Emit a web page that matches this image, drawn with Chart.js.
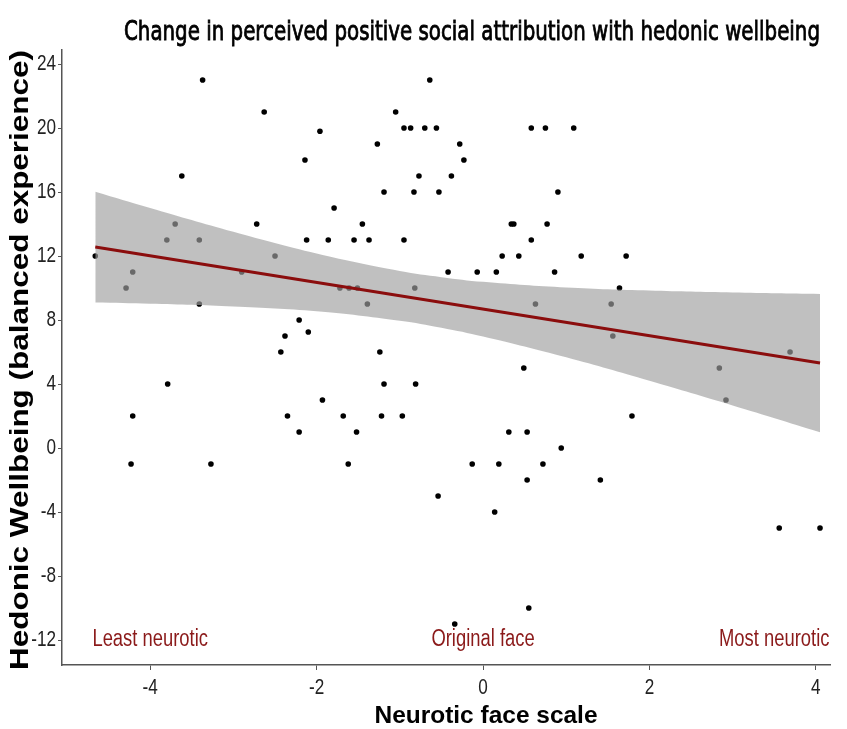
<!DOCTYPE html>
<html>
<head>
<meta charset="utf-8">
<script src="https://cdn.jsdelivr.net/npm/chart.js@4"></script>
<style>
  html, body { margin: 0; padding: 0; background: #fff; }
  #wrap { width: 847px; height: 729px; }
</style>
</head>
<body>
<div id="wrap"><canvas id="myChart" width="847" height="729"></canvas></div>
<script>
// participants: neurotic face scale (x) vs hedonic wellbeing (y)
const faceScale = [
  -3.37, -0.64, -2.63, -1.05, -1.96, -0.95, -0.87, -0.70, -0.56, 0.58,
  0.75, 1.09, -0.28, -1.27, -0.23, -2.14, -3.62, -0.77, -0.38, -1.19,
  -0.83, -0.53, 0.90, -1.79, -1.45, 0.34, 0.37, 0.77, -3.70, -2.72,
  -3.80, -3.41, -2.12, -1.86, -1.55, -1.37, -0.95, 0.58, -4.66, -2.50,
  0.23, 0.43, 1.18, 1.72, -4.21, -2.90, -0.42, -0.07, 0.16, 0.86,
  -4.29, -1.72, -1.61, -1.51, -0.82, 1.64, -3.41, -1.39, 0.63, 1.54,
  -2.21, -2.38, -2.10, 1.56, -2.43, -1.24, 3.69, 0.49, 2.84, -3.79,
  -1.19, -0.81, -1.93, 2.92, -4.21, -2.35, -1.68, -1.22, -0.97, 1.79,
  -2.21, -1.52, 0.31, 0.53, 0.94, -4.23, -3.27, -1.62, -0.13, 0.19,
  0.72, 0.53, 1.41, -0.54, 0.14, 3.56, 4.05, 0.55, -0.34
];
const wellbeing = [
  23, 23, 21, 21, 19.8, 20, 20, 20, 20, 20,
  20, 20, 19, 19, 18, 18, 17, 17, 17, 16,
  16, 16, 16, 15, 14, 14, 14, 14, 14, 14,
  13, 13, 13, 13, 13, 13, 13, 13, 12, 12,
  12, 12, 12, 12, 11, 11, 11, 11, 11, 11,
  10, 10, 10, 10, 10, 10, 9, 9, 9, 9,
  8, 7, 7.25, 7, 6, 6, 6, 5, 5, 4,
  4, 4, 3, 3, 2, 2, 2, 2, 2, 2,
  1, 1, 1, 1, 0, -1, -1, -1, -1, -1,
  -1, -2, -2, -3, -4, -5, -5, -10, -11
];

// fitted line (lm) and its 95% band
const fitX = [-4.66, 4.05];
const fitY = [12.56, 5.31];
const bandX = [-4.66, -4, -3, -2, -1, -0.5, 0, 1, 2, 3, 4.05];
const bandUpper = [16.02, 15.0, 13.51, 12.15, 11.06, 10.68, 10.39, 10.03, 9.84, 9.72, 9.63];
const bandLower = [9.10, 9.02, 8.85, 8.55, 7.96, 7.52, 6.97, 5.67, 4.20, 2.66, 0.99];

// corner labels
const noteText = ['Least neurotic', 'Original face', 'Most neurotic'];
const noteX = [-4, 0, 3.5];
const noteY = [-12, -12, -12];

const xTicks = [-4, -2, 0, 2, 4];
const yTicks = [-12, -8, -4, 0, 4, 8, 12, 16, 20, 24];

const chartTitle = 'Change in perceived positive social attribution with hedonic wellbeing';
const xTitle = 'Neurotic face scale';
const yTitle = 'Hedonic Wellbeing (balanced experience)';

const toXY = (xs, ys) => xs.map((x, i) => ({ x: x, y: ys[i] }));

const sans = '"Liberation Sans", Arial, sans-serif';
const darkRed = '#8b1a1a';

// draw text squeezed horizontally (no narrow fonts installed)
function squeezed(ctx, text, x, y, font, sx, align, stroke) {
  ctx.save();
  ctx.font = font;
  ctx.textAlign = align || 'center';
  ctx.translate(x, y);
  ctx.scale(sx, 1);
  ctx.fillText(text, 0, 0);
  if (stroke) {
    ctx.strokeStyle = ctx.fillStyle;
    ctx.lineWidth = stroke;
    ctx.strokeText(text, 0, 0);
  }
  ctx.restore();
}
function fitWidth(ctx, text, x, y, font, width, stroke) {
  ctx.save();
  ctx.font = font;
  const w = ctx.measureText(text).width;
  ctx.restore();
  squeezed(ctx, text, x, y, font, width / w, 'center', stroke);
}

const textPlugin = {
  id: 'texts',
  afterDraw(chart) {
    const ctx = chart.ctx;
    const xs = chart.scales.x, ys = chart.scales.y;
    const area = chart.chartArea;
    ctx.save();
    ctx.textBaseline = 'alphabetic';

    // title (medium weight imitated by a thin stroke)
    ctx.fillStyle = '#000';
    fitWidth(ctx, chartTitle, 472, 40, '27px "DejaVu Sans", sans-serif', 696, 0.9);

    // axis titles
    fitWidth(ctx, xTitle, 486, 723, 'bold 24px ' + sans, 223);
    ctx.save();
    ctx.translate(28, 360);
    ctx.rotate(-Math.PI / 2);
    fitWidth(ctx, yTitle, 0, 0, 'bold 25px ' + sans, 620);
    ctx.restore();

    // tick labels
    ctx.fillStyle = '#222';
    ctx.textBaseline = 'middle';
    xTicks.forEach(v => {
      squeezed(ctx, String(v), xs.getPixelForValue(v), area.bottom + 23, '22px ' + sans, 0.78, 'center');
    });
    yTicks.forEach(v => {
      squeezed(ctx, String(v), area.left - 6, ys.getPixelForValue(v), '22px ' + sans, 0.78, 'right');
    });

    // corner labels
    ctx.fillStyle = darkRed;
    noteText.forEach((t, i) => {
      squeezed(ctx, t, xs.getPixelForValue(noteX[i]), ys.getPixelForValue(noteY[i]), '23px ' + sans, 0.8, 'center');
    });
    ctx.restore();
  }
};

const ctx = document.getElementById('myChart').getContext('2d');
new Chart(ctx, {
  type: 'scatter',
  data: {
    datasets: [
      {
        label: 'participants',
        data: toXY(faceScale, wellbeing),
        backgroundColor: '#000',
        borderWidth: 0,
        pointRadius: 2.8,
        order: 4
      },
      {
        label: 'upper',
        type: 'line',
        data: toXY(bandX, bandUpper),
        borderWidth: 0,
        borderColor: 'rgba(0,0,0,0)',
        pointRadius: 0,
        tension: 0.4,
        fill: '+1',
        backgroundColor: 'rgba(159,159,159,0.66)',
        order: 3
      },
      {
        label: 'lower',
        type: 'line',
        data: toXY(bandX, bandLower),
        borderWidth: 0,
        borderColor: 'rgba(0,0,0,0)',
        pointRadius: 0,
        tension: 0.4,
        fill: false,
        order: 3
      },
      {
        label: 'fit',
        type: 'line',
        data: toXY(fitX, fitY),
        borderColor: '#8b0d0d',
        borderWidth: 3,
        pointRadius: 0,
        fill: false,
        order: 1
      }
    ]
  },
  plugins: [textPlugin],
  options: {
    responsive: false,
    animation: false,
    layout: { padding: { left: 0, right: 17, top: 50, bottom: 0 } },
    plugins: {
      legend: { display: false },
      tooltip: { enabled: false },
      title: { display: false }
    },
    scales: {
      x: {
        type: 'linear',
        min: -5.06,
        max: 4.17,
        afterBuildTicks: s => { s.ticks = xTicks.map(v => ({ value: v })); },
        afterFit: s => { s.height = 64; },
        border: { display: true, color: '#555', width: 1.5 },
        grid: { drawOnChartArea: false, drawTicks: true, tickLength: 5, color: '#555' },
        ticks: { display: false }
      },
      y: {
        type: 'linear',
        min: -13.56,
        max: 24.875,
        afterBuildTicks: s => { s.ticks = yTicks.map(v => ({ value: v })); },
        afterFit: s => { s.width = 62; },
        border: { display: true, color: '#555', width: 1.5 },
        grid: { drawOnChartArea: false, drawTicks: true, tickLength: 4, color: '#555' },
        ticks: { display: false }
      }
    }
  }
});
</script>
</body>
</html>
